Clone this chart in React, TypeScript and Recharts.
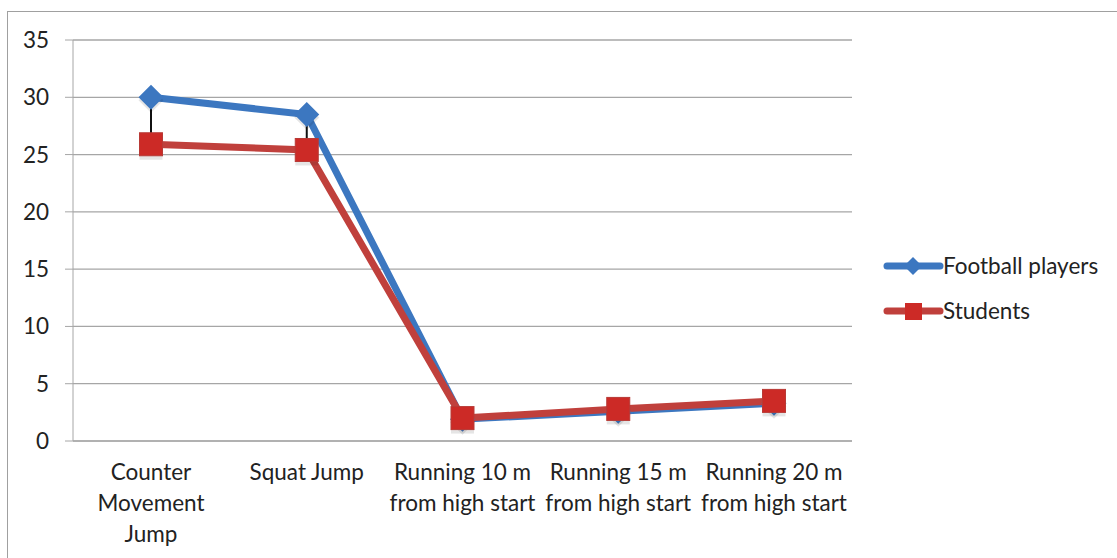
import { LineChart, Line, XAxis, YAxis, CartesianGrid, ErrorBar } from 'recharts';

const categories = [
  'Counter Movement Jump',
  'Squat Jump',
  'Running 10 m from high start',
  'Running 15 m from high start',
  'Running 20 m from high start',
];
const tickLines = [
  ['Counter', 'Movement', 'Jump'],
  ['Squat Jump'],
  ['Running 10 m', 'from high start'],
  ['Running 15 m', 'from high start'],
  ['Running 20 m', 'from high start'],
];
const footballPlayers = [30.0, 28.5, 1.9, 2.6, 3.3];
const students = [25.9, 25.4, 2.0, 2.8, 3.5];
const footballErrDown = [4.0, 3.0, 0, 0, 0];
const yTicks = [0, 5, 10, 15, 20, 25, 30, 35];

const BLUE = '#3c77c0';
const RED = '#c0403c';
const FONT = 'Lato, "Open Sans", sans-serif';
const FS = 22.5;

const data = categories.map((c, i) => ({
  name: c,
  football: footballPlayers[i],
  students: students[i],
  fbErr: [footballErrDown[i], 0],
}));

const Diamond = (props: any) => {
  const { cx, cy } = props;
  if (cx == null || cy == null) return null;
  const r = 12.5;
  return (
    <g>
      <polygon points={`${cx},${cy - r + 3} ${cx + r},${cy + 3} ${cx},${cy + r + 3} ${cx - r},${cy + 3}`} fill="#000" opacity={0.1} />
      <polygon points={`${cx},${cy - r} ${cx + r},${cy} ${cx},${cy + r} ${cx - r},${cy}`} fill={BLUE} />
    </g>
  );
};

const Square = (props: any) => {
  const { cx, cy } = props;
  if (cx == null || cy == null) return null;
  const s = 11.5;
  return (
    <g>
      <rect x={cx - s} y={cy - s + 4} width={s * 2} height={s * 2} fill="#000" opacity={0.1} />
      <rect x={cx - s} y={cy - s} width={s * 2} height={s * 2} fill="#cc2a26" stroke="#b83a36" strokeWidth={1} />
    </g>
  );
};

const CategoryTick = (props: any) => {
  const { x, y, payload } = props;
  const lines = tickLines[payload.index] || [payload.value];
  return (
    <text x={x} y={y} textAnchor="middle" fill="#222" fontSize={FS} fontFamily={FONT}>
      {lines.map((l, i) => (
        <tspan key={i} x={x} dy={31}>{l}</tspan>
      ))}
    </text>
  );
};

const LegendBox = () => {
  const items = [
    { label: 'Football players', color: BLUE, shape: 'diamond' },
    { label: 'Students', color: RED, shape: 'square' },
  ];
  return (
    <svg width={235} height={80} style={{ display: 'block' }}>
      {items.map((it, i) => {
        const y = 16 + i * 45;
        return (
          <g key={it.label}>
            <line x1={9} y1={y} x2={62} y2={y} stroke={it.color} strokeWidth={7} strokeLinecap="round" />
            {it.shape === 'diamond' ? (
              <polygon points={`35,${y - 9} 44,${y} 35,${y + 9} 26,${y}`} fill={it.color} />
            ) : (
              <rect x={27} y={y - 8} width={17} height={17} fill="#cc2a26" />
            )}
            <text x={65} y={y + 8} fontSize={FS} fontFamily={FONT} fill="#222">{it.label}</text>
          </g>
        );
      })}
    </svg>
  );
};

export default function App() {
  return (
    <div style={{ position: 'absolute', left: 0, top: 0, width: 1117, height: 558, overflow: 'hidden', background: '#fff' }}>
      <div style={{ position: 'absolute', left: 7, top: 11, width: 1120, height: 600, border: '1px solid #a0a0a0' }} />
      <div style={{ position: 'absolute', left: 0, top: 0 }}>
        <LineChart width={1117} height={558} data={data} margin={{ top: 40, right: 265, bottom: 0, left: 0 }}>
          <CartesianGrid vertical={false} stroke="#a6a6a6" strokeWidth={1.3} />
          <XAxis
            dataKey="name"
            height={117}
            interval={0}
            padding={{ left: 78, right: 78 }}
            axisLine={{ stroke: '#a6a6a6' }}
            tickLine={false}
            tick={<CategoryTick />}
          />
          <YAxis
            domain={[0, 35]}
            ticks={yTicks}
            width={73}
            axisLine={{ stroke: '#a6a6a6' }}
            tickLine={{ stroke: '#a6a6a6' }}
            tickSize={8}
            tickMargin={16}
            tick={{ fontSize: FS, fill: '#222', fontFamily: FONT }}
          />
          <Line
            dataKey="football"
            name="Football players"
            stroke={BLUE}
            strokeWidth={7}
            dot={<Diamond />}
            isAnimationActive={false}
          />
          <Line
            dataKey="students"
            name="Students"
            stroke={RED}
            strokeWidth={7}
            dot={<Square />}
            isAnimationActive={false}
          />
          <Line
            dataKey="football"
            stroke="none"
            dot={false}
            legendType="none"
            isAnimationActive={false}
          >
            <ErrorBar dataKey="fbErr" width={0} stroke="#111" strokeWidth={2} direction="y" />
          </Line>
        </LineChart>
      </div>
      <div style={{ position: 'absolute', left: 878, top: 250 }}>
        <LegendBox />
      </div>
    </div>
  );
}
